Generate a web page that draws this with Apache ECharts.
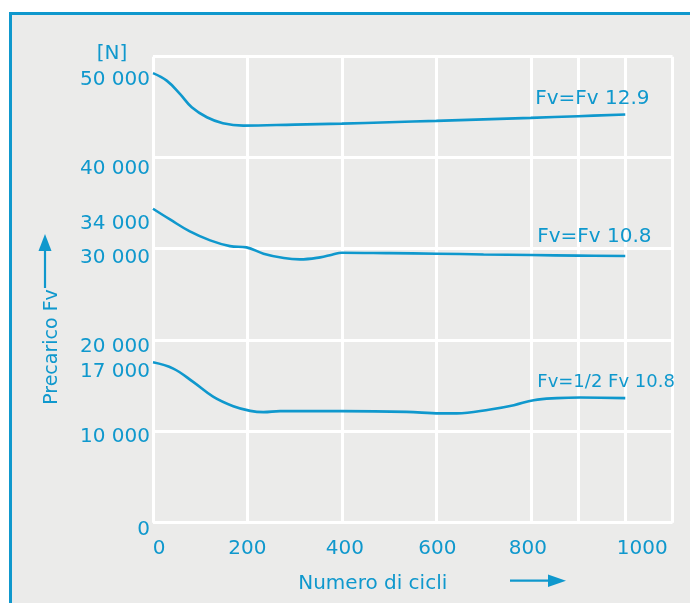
<!DOCTYPE html>
<html>
<head>
<meta charset="utf-8">
<script src="https://cdn.jsdelivr.net/npm/echarts@6/dist/echarts.min.js"></script>
<style>
  html, body { margin: 0; padding: 0; background: #ffffff; }
  #chart { width: 690px; height: 603px; }
</style>
</head>
<body>
<div id="chart"></div>
<script>
// ---- data ----
const seriesNames = ['Fv=Fv 12.9', 'Fv=Fv 10.8', 'Fv=1/2 Fv 10.8'];

const cycles1 = [0, 29, 57, 82, 114, 148, 191, 300, 400, 500, 600, 700, 800, 900, 1000];
const force1  = [49200, 48380, 46930, 45460, 44370, 43720, 43460, 43570, 43680, 43830, 43980, 44140, 44300, 44490, 44670];

const cycles2 = [0, 36, 78, 121, 163, 198, 234, 277, 311, 354, 379, 400, 500, 600, 700, 800, 900, 1000];
const force2  = [34360, 33190, 31880, 30900, 30270, 30130, 29440, 28960, 28820, 29040, 29330, 29550, 29500, 29440, 29360, 29290, 29230, 29180];

const cycles3 = [0, 43, 85, 128, 170, 206, 234, 269, 400, 537, 608, 643, 714, 764, 806, 855, 905, 1000];
const force3  = [17560, 16870, 15410, 13770, 12750, 12240, 12100, 12210, 12210, 12130, 11960, 11960, 12390, 12860, 13410, 13630, 13700, 13630];

const yTickValues = [0, 10000, 17000, 20000, 30000, 34000, 40000, 50000];
const xTickValues = [0, 200, 400, 600, 800, 1000];
const xGridValues = [0, 200, 400, 600, 800, 900, 1000, 1100];
const yGridValues = [0, 10000, 20000, 30000, 40000, 51000];
const xMax = 1100;
const yMax = 51000;

// ---- styling ----
const BLUE = '#0f98cd';
const FONT = 'DejaVu Sans';

function pairs(xs, ys) { return xs.map((x, i) => [x, ys[i]]); }
function fmtThousands(v) {
  const s = String(v);
  return s.length > 3 ? s.slice(0, s.length - 3) + ' ' + s.slice(s.length - 3) : s;
}

// label placement nudges (pixels) to mimic the hand-set figure
const yLabelDrop = { 0: 14, 10000: 10, 17000: 9, 20000: 14, 30000: 18, 34000: 24, 40000: 24, 50000: 28 };
const xLabelShift = { 0: 12, 200: 0, 400: 6, 600: 2, 800: -6, 1000: 34 };

const yRich = {};
Object.keys(yLabelDrop).forEach(k => {
  yRich['y' + k] = { color: BLUE, fontFamily: FONT, fontSize: 20, padding: [yLabelDrop[k], 0, 0, 0] };
});
const xRich = {};
Object.keys(xLabelShift).forEach(k => {
  const s = xLabelShift[k];
  xRich['x' + k] = { color: BLUE, fontFamily: FONT, fontSize: 20, padding: s >= 0 ? [0, 0, 0, s] : [0, -s, 0, 0] };
});

const labelOffsets = [[-98, -16], [-96, -19], [-96, -16]];
const labelSizes = [20, 20, 18];
const dataSets = [pairs(cycles1, force1), pairs(cycles2, force2), pairs(cycles3, force3)];

const dataSeries = dataSets.map((d, i) => ({
  name: seriesNames[i],
  type: 'line',
  data: d,
  smooth: 0.4,
  showSymbol: false,
  symbol: 'none',
  z: 5,
  lineStyle: { color: BLUE, width: 2.6 },
  endLabel: {
    show: true,
    formatter: seriesNames[i],
    color: BLUE,
    fontFamily: FONT,
    fontSize: labelSizes[i],
    offset: labelOffsets[i],
    align: 'left',
    verticalAlign: 'middle'
  },
  silent: true
}));

const gridSeries = {
  type: 'line',
  data: [],
  silent: true,
  z: 1,
  markLine: {
    silent: true,
    symbol: ['none', 'none'],
    label: { show: false },
    lineStyle: { color: '#ffffff', width: 3, type: 'solid' },
    emphasis: { disabled: true },
    animation: false,
    data: xGridValues.map(v => ({ xAxis: v })).concat(yGridValues.map(v => ({ yAxis: v })))
  }
};

const chart = echarts.init(document.getElementById('chart'), null, { renderer: 'canvas' });
chart.setOption({
  animation: false,
  backgroundColor: '#ffffff',
  textStyle: { fontFamily: FONT },
  graphic: [
    {
      type: 'rect', z: -10, silent: true,
      shape: { x: 10.5, y: 13.5, width: 720, height: 640 },
      style: { fill: '#ebebea', stroke: BLUE, lineWidth: 3 }
    },
    {
      type: 'text', silent: true, z: 10,
      x: 52, y: 347, rotation: Math.PI / 2,
      style: { text: 'Precarico Fv', fill: BLUE, font: '19px "DejaVu Sans"', align: 'center', verticalAlign: 'middle' }
    },
    {
      type: 'line', silent: true, z: 10,
      shape: { x1: 45, y1: 288, x2: 45, y2: 248 },
      style: { stroke: BLUE, lineWidth: 2.2 }
    },
    {
      type: 'polygon', silent: true, z: 10,
      shape: { points: [[45, 234], [38.5, 251], [51.5, 251]] },
      style: { fill: BLUE }
    },
    {
      type: 'line', silent: true, z: 10,
      shape: { x1: 510, y1: 580.7, x2: 552, y2: 580.7 },
      style: { stroke: BLUE, lineWidth: 2.2 }
    },
    {
      type: 'polygon', silent: true, z: 10,
      shape: { points: [[566, 580.7], [548, 574.5], [548, 587]] },
      style: { fill: BLUE }
    }
  ],
  grid: {
    left: 153, right: 17.5, top: 56.7, bottom: 80.3,
    show: false
  },
  xAxis: {
    type: 'value',
    min: 0, max: xMax,
    name: 'Numero di cicli',
    nameLocation: 'middle',
    nameGap: 51,
    nameTextStyle: { color: BLUE, fontFamily: FONT, fontSize: 20, padding: [0, 80, 0, 0] },
    axisLine: { show: false },
    axisTick: { show: false },
    splitLine: { show: false },
    axisLabel: {
      customValues: xTickValues,
      color: BLUE, fontFamily: FONT, fontSize: 20, margin: 16,
      formatter: v => '{x' + v + '|' + v + '}',
      rich: xRich
    }
  },
  yAxis: {
    type: 'value',
    min: 0, max: yMax,
    name: '[N]',
    nameLocation: 'end',
    nameGap: -7,
    nameTextStyle: { color: BLUE, fontFamily: FONT, fontSize: 20, align: 'center', padding: [0, 82, 0, 0] },
    axisLine: { show: false },
    axisTick: { show: false },
    splitLine: { show: false },
    axisLabel: {
      customValues: yTickValues,
      color: BLUE, fontFamily: FONT, fontSize: 20, margin: 3,
      formatter: v => '{y' + v + '|' + fmtThousands(v) + '}',
      rich: yRich
    }
  },
  series: [gridSeries].concat(dataSeries)
});
</script>
</body>
</html>
